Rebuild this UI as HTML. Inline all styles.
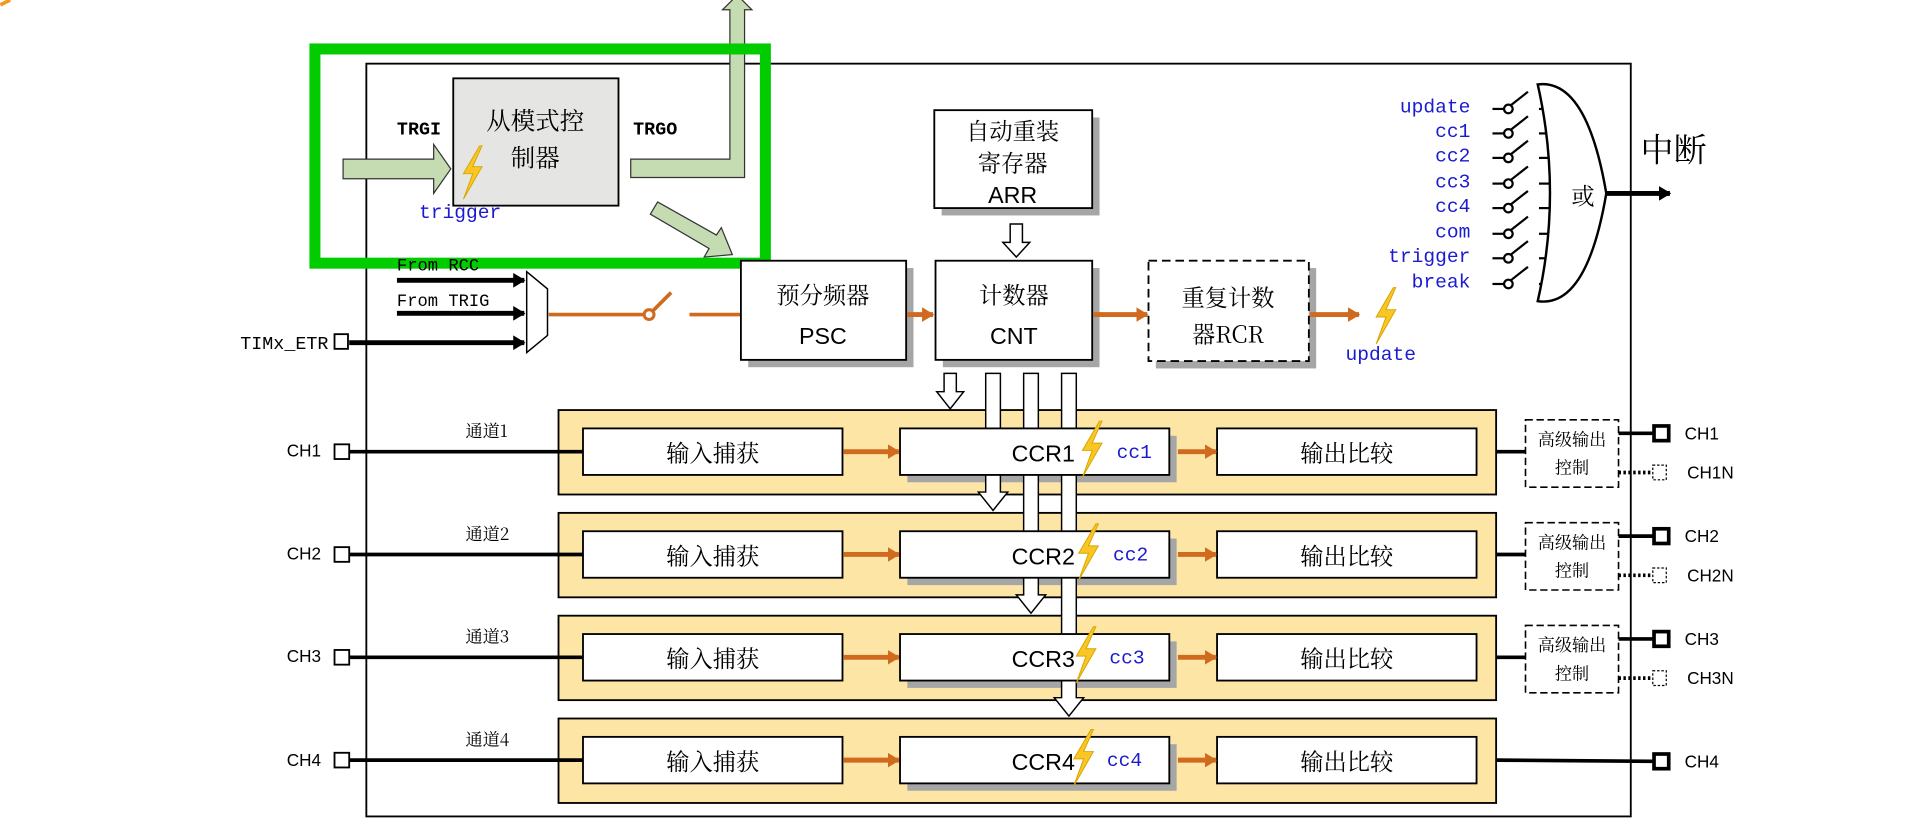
<!DOCTYPE html>
<html><head><meta charset="utf-8">
<style>
html,body{margin:0;padding:0;background:#fff;}
svg{display:block;}
.m{font-family:"Liberation Mono",monospace;}
.b{fill:#1a1ad0;}
.c{font-family:"Noto Serif CJK SC","Liberation Serif",serif;}
.s{font-family:"Liberation Sans","Noto Sans CJK SC",sans-serif;}
</style></head><body>
<svg width="1920" height="825" viewBox="0 0 1568 674" xmlns="http://www.w3.org/2000/svg">
<defs>
<polygon id="bolt" points="8,-22 -6,2 2,2 -6,24 10,-4 2,-4 10,-22" fill="#f9c623" stroke="#d9a400" stroke-width="0.8"/>
<marker id="ah" markerUnits="userSpaceOnUse" markerWidth="10" markerHeight="12" refX="9" refY="6" orient="auto"><path d="M0,0 L10,6 L0,12 z" fill="#000"/></marker>
<marker id="oh" markerUnits="userSpaceOnUse" markerWidth="10" markerHeight="12" refX="9" refY="6" orient="auto"><path d="M0,0 L10,6 L0,12 z" fill="#d06a1e"/></marker>
</defs>
<path d="M0,4 L8,0" stroke="#f39a1c" stroke-width="3"/>
<rect x="299" y="52" width="1033" height="615" fill="#fff" stroke="#000" stroke-width="1.5"/>
<rect x="370" y="64" width="135" height="104" fill="#e5e5e3" stroke="#000" stroke-width="1.5"/>
<text x="437" y="106" class="c" font-size="20" text-anchor="middle">从模式控</text>
<text x="437" y="136" class="c" font-size="20" text-anchor="middle">制器</text>
<text x="324" y="110" class="m" font-size="15" font-weight="bold">TRGI</text>
<text x="517" y="110" class="m" font-size="15" font-weight="bold">TRGO</text>
<path d="M280,130 L354,130 L354,118 L368,138 L354,158 L354,146 L280,146 Z" fill="#c5dbb2" stroke="#333" stroke-width="1"/>
<path d="M515,130 L596,130 L596,8 L590,8 L602,-4 L614,8 L608,8 L608,145 L515,145 Z" fill="#c5dbb2" stroke="#333" stroke-width="1"/>
<path d="M531,175 L537,165 L585,192 L589,186 L598,208 L575,210 L579,203 Z" fill="#c5dbb2" stroke="#333" stroke-width="1"/>
<use href="#bolt" transform="translate(384,140) scale(0.95)"/>
<text x="342" y="178" class="m b" font-size="16">trigger</text>
<rect x="257" y="40" width="368" height="175" fill="none" stroke="#00cc00" stroke-width="9"/>
<text x="324" y="221" class="m" font-size="14">From RCC</text>
<text x="324" y="250" class="m" font-size="14">From TRIG</text>
<line x1="324" y1="229" x2="428" y2="229" stroke="#000" stroke-width="4" marker-end="url(#ah)"/>
<line x1="324" y1="256" x2="428" y2="256" stroke="#000" stroke-width="4" marker-end="url(#ah)"/>
<line x1="285" y1="280" x2="428" y2="280" stroke="#000" stroke-width="4" marker-end="url(#ah)"/>
<path d="M430,222 L447,236 L447,274 L430,288 Z" fill="#fff" stroke="#000" stroke-width="1.2"/>
<text x="268" y="285" class="m" font-size="15" text-anchor="end">TIMx_ETR</text>
<rect x="273" y="273" width="11" height="12" fill="#fff" stroke="#000" stroke-width="1.5"/>
<line x1="448" y1="257" x2="526" y2="257" stroke="#d06a1e" stroke-width="3"/>
<circle cx="530" cy="257" r="4" fill="#fff" stroke="#d06a1e" stroke-width="2.5"/>
<line x1="533" y1="254" x2="548" y2="239" stroke="#d06a1e" stroke-width="3"/>
<line x1="563" y1="257" x2="605" y2="257" stroke="#d06a1e" stroke-width="3"/>
<rect x="611" y="219" width="135" height="81" fill="#a6a6a6"/>
<rect x="605" y="213" width="135" height="81" fill="#fff" stroke="#000" stroke-width="1.5"/>
<text x="672" y="248" class="c" font-size="19" text-anchor="middle">预分频器</text>
<text x="672" y="281" class="s" font-size="19" text-anchor="middle">PSC</text>
<rect x="769" y="96" width="129" height="80" fill="#a6a6a6"/>
<rect x="763" y="90" width="129" height="80" fill="#fff" stroke="#000" stroke-width="1.5"/>
<text x="827" y="114" class="c" font-size="19" text-anchor="middle">自动重装</text>
<text x="827" y="140" class="c" font-size="19" text-anchor="middle">寄存器</text>
<text x="827" y="166" class="s" font-size="19" text-anchor="middle">ARR</text>
<path d="M825,183 L835,183 L835,198 L841,198 L830,210 L819,198 L825,198 Z" fill="#fff" stroke="#000" stroke-width="1.2"/>
<rect x="770" y="219" width="128" height="81" fill="#a6a6a6"/>
<rect x="764" y="213" width="128" height="81" fill="#fff" stroke="#000" stroke-width="1.5"/>
<text x="828" y="248" class="c" font-size="19" text-anchor="middle">计数器</text>
<text x="828" y="281" class="s" font-size="19" text-anchor="middle">CNT</text>
<rect x="944" y="219" width="131" height="82" fill="#a6a6a6"/>
<rect x="938" y="213" width="131" height="82" fill="#fff" stroke="#000" stroke-width="1.5" stroke-dasharray="7,4"/>
<text x="1003" y="250" class="c" font-size="19" text-anchor="middle">重复计数</text>
<text x="1003" y="280" class="c" font-size="19" text-anchor="middle">器RCR</text>
<line x1="741" y1="257" x2="762" y2="257" stroke="#d06a1e" stroke-width="4" marker-end="url(#oh)"/>
<line x1="893" y1="257" x2="937" y2="257" stroke="#d06a1e" stroke-width="4" marker-end="url(#oh)"/>
<line x1="1070" y1="257" x2="1110" y2="257" stroke="#d06a1e" stroke-width="4" marker-end="url(#oh)"/>
<use href="#bolt" transform="translate(1130,257) scale(1)"/>
<text x="1099" y="294" class="m b" font-size="16">update</text>
<g class="m b" font-size="16" text-anchor="end">
<text x="1201" y="92">update</text><text x="1201" y="112">cc1</text><text x="1201" y="132">cc2</text><text x="1201" y="153">cc3</text><text x="1201" y="173">cc4</text><text x="1201" y="194">com</text><text x="1201" y="214">trigger</text><text x="1201" y="235">break</text>
</g>
<g stroke="#000" stroke-width="1.8" fill="#fff">
<g id="sw"><line x1="1219" y1="89" x2="1228" y2="89"/><circle cx="1232" cy="89" r="3.5"/><line x1="1234" y1="86" x2="1248" y2="75"/><line x1="1257" y1="89" x2="1266" y2="89"/></g>
<use href="#sw" y="20"/><use href="#sw" y="40"/><use href="#sw" y="61"/><use href="#sw" y="81"/><use href="#sw" y="102"/><use href="#sw" y="122"/><use href="#sw" y="143"/>
</g>
<path d="M1256,69 Q1296,64 1312,158 Q1296,252 1256,246 Q1276,158 1256,69 Z" fill="#fff" stroke="#000" stroke-width="2"/>
<text x="1293" y="167" class="c" font-size="19" text-anchor="middle">或</text>
<line x1="1312" y1="158" x2="1364" y2="158" stroke="#000" stroke-width="4" marker-end="url(#ah)"/>
<text x="1340" y="132" class="c" font-size="27">中断</text>
<g id="ch">
<rect x="456" y="335" width="766" height="69" fill="#fde5a5" stroke="#000" stroke-width="1.5"/>
<rect x="476" y="350" width="212" height="38" fill="#fff" stroke="#000" stroke-width="1.5"/>
<text x="582" y="377" class="c" font-size="19" text-anchor="middle">输入捕获</text>
<rect x="741" y="356" width="220" height="38" fill="#a6a6a6"/>
<rect x="994" y="350" width="212" height="38" fill="#fff" stroke="#000" stroke-width="1.5"/>
<text x="1100" y="377" class="c" font-size="19" text-anchor="middle">输出比较</text>
<line x1="689" y1="369" x2="734" y2="369" stroke="#d06a1e" stroke-width="4" marker-end="url(#oh)"/>
<line x1="962" y1="369" x2="993" y2="369" stroke="#d06a1e" stroke-width="4" marker-end="url(#oh)"/>
<line x1="285" y1="369" x2="476" y2="369" stroke="#000" stroke-width="3"/>
<rect x="273" y="363" width="12" height="12" fill="#fff" stroke="#000" stroke-width="1.5"/>
</g>
<use href="#ch" y="84"/><use href="#ch" y="168"/><use href="#ch" y="252"/>
<g fill="#fff" stroke="#000" stroke-width="1.2">
<path d="M771,305 L781,305 L781,320 L787,320 L776,334 L765,320 L771,320 Z"/>
<path d="M805,305 L817,305 L817,402 L823,402 L811,417 L799,402 L805,402 Z"/>
<path d="M836,305 L848,305 L848,486 L854,486 L842,501 L830,486 L836,486 Z"/>
<path d="M867,305 L879,305 L879,570 L885,570 L873,585 L861,570 L867,570 Z"/>
</g>
<rect x="735" y="350" width="220" height="38" fill="#fff" stroke="#000" stroke-width="1.5"/>
<rect x="735" y="434" width="220" height="38" fill="#fff" stroke="#000" stroke-width="1.5"/>
<rect x="735" y="518" width="220" height="38" fill="#fff" stroke="#000" stroke-width="1.5"/>
<rect x="735" y="602" width="220" height="38" fill="#fff" stroke="#000" stroke-width="1.5"/>
<g class="s" font-size="19" text-anchor="middle">
<text x="852" y="377">CCR1</text><text x="852" y="461">CCR2</text><text x="852" y="545">CCR3</text><text x="852" y="629">CCR4</text>
</g>
<use href="#bolt" transform="translate(890,366)"/>
<use href="#bolt" transform="translate(887,450)"/>
<use href="#bolt" transform="translate(885,534)"/>
<use href="#bolt" transform="translate(883,618)"/>
<g class="m b" font-size="16">
<text x="912" y="374">cc1</text><text x="909" y="458">cc2</text><text x="906" y="542">cc3</text><text x="904" y="626">cc4</text>
</g>
<g class="c" font-size="14">
<text x="380" y="357">通道1</text><text x="380" y="441">通道2</text><text x="380" y="525">通道3</text><text x="380" y="609">通道4</text>
</g>
<g class="s" font-size="14" text-anchor="end">
<text x="262" y="373">CH1</text><text x="262" y="457">CH2</text><text x="262" y="541">CH3</text><text x="262" y="626">CH4</text>
</g>
<g id="adv">
<line x1="1222" y1="369" x2="1246" y2="369" stroke="#000" stroke-width="3"/>
<rect x="1246" y="343" width="76" height="55" fill="#fff" stroke="#000" stroke-width="1.3" stroke-dasharray="6,3"/>
<text x="1284" y="364" class="c" font-size="14" text-anchor="middle">高级输出</text>
<text x="1284" y="387" class="c" font-size="14" text-anchor="middle">控制</text>
<line x1="1322" y1="354" x2="1352" y2="354" stroke="#000" stroke-width="3"/>
<rect x="1351" y="348" width="12" height="12" fill="#fff" stroke="#000" stroke-width="3"/>
<line x1="1322" y1="386" x2="1350" y2="386" stroke="#000" stroke-width="3" stroke-dasharray="2,2"/>
<rect x="1350" y="380" width="11" height="12" fill="#fff" stroke="#000" stroke-width="1" stroke-dasharray="2,1.5"/>
</g>
<use href="#adv" y="84"/><use href="#adv" y="168"/>
<g class="s" font-size="14">
<text x="1376" y="359">CH1</text><text x="1378" y="391">CH1N</text>
<text x="1376" y="443">CH2</text><text x="1378" y="475">CH2N</text>
<text x="1376" y="527">CH3</text><text x="1378" y="559">CH3N</text>
<text x="1376" y="627">CH4</text>
</g>
<line x1="1222" y1="621" x2="1352" y2="622" stroke="#000" stroke-width="3"/>
<rect x="1351" y="616" width="12" height="12" fill="#fff" stroke="#000" stroke-width="3"/>
</svg>
</body></html>
